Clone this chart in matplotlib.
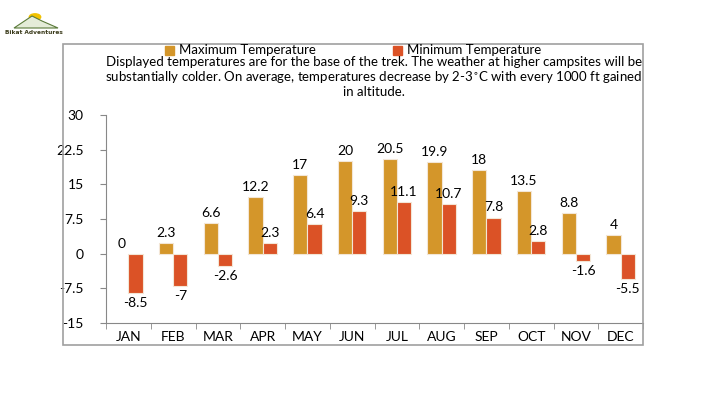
import matplotlib
matplotlib.use('Agg')
import matplotlib.pyplot as plt
import numpy as np
from matplotlib.patches import Rectangle, Polygon, Circle

# data
months = ['JAN', 'FEB', 'MAR', 'APR', 'MAY', 'JUN', 'JUL', 'AUG', 'SEP', 'OCT', 'NOV', 'DEC']
max_temp = [0, 2.3, 6.6, 12.2, 17, 20, 20.5, 19.9, 18, 13.5, 8.8, 4]
min_temp = [-8.5, -7, -2.6, 2.3, 6.4, 9.3, 11.1, 10.7, 7.8, 2.8, -1.6, -5.5]
yticks = [30, 22.5, 15, 7.5, 0, -7.5, -15]

max_color = '#D4962A'
min_color = '#DB5226'

plt.rcParams['font.family'] = ['Lato', 'DejaVu Sans']

W, H = 709, 399
fig = plt.figure(figsize=(W / 100, H / 100), dpi=100)
fig.patch.set_facecolor('white')

def fx(px): return px / W
def fy(py): return 1 - py / H

# outer box
fig.patches.append(Rectangle((fx(63), fy(345)), fx(643) - fx(63), fy(44) - fy(345),
                             transform=fig.transFigure, fill=False, edgecolor='#a0a0a0', lw=1.2))

# logo
fig.patches.append(Circle((fx(35), fy(17)), 0.008, transform=fig.transFigure, color='#f2c200', zorder=1))
fig.patches.append(Polygon([(fx(14), fy(28)), (fx(32), fy(16)), (fx(42), fy(21)), (fx(58), fy(28))],
                           closed=True, transform=fig.transFigure, facecolor='#e4ecd8', edgecolor='#5a7a3a', lw=0.8, zorder=2))
fig.text(fx(34), fy(32), 'Bikat Adventures', ha='center', va='center', fontsize=4.2,
         fontweight='bold', color='#3a3a1a', family='DejaVu Sans')

# legend
fig.patches.append(Rectangle((fx(165), fy(55)), fx(9), 9 / H, transform=fig.transFigure, color=max_color))
fig.text(fx(179), fy(50.5), 'Maximum Temperature', ha='left', va='center', fontsize=9.5)
fig.patches.append(Rectangle((fx(393), fy(55)), fx(9), 9 / H, transform=fig.transFigure, color=min_color))
fig.text(fx(407), fy(50.5), 'Minimum Temperature', ha='left', va='center', fontsize=9.5)

fig.text(fx(374), fy(56.5), 'Displayed temperatures are for the base of the trek. The weather at higher campsites will be\n'
         'substantially colder. On average, temperatures decrease by 2-3$^{\\circ}$C with every 1000 ft gained\n'
         'in altitude.', ha='center', va='top', fontsize=9.5, linespacing=1.08)

ax = fig.add_axes([fx(106), fy(323), fx(643) - fx(106), fy(115) - fy(323)])
x = np.arange(len(months))
bw = 0.32
b1 = ax.bar(x - bw / 2, max_temp, bw, color=max_color, edgecolor='#f3e6d6', lw=0.8)
b2 = ax.bar(x + bw / 2, min_temp, bw, color=min_color, edgecolor='#f3e6d6', lw=0.8)

for bars, vals in ((b1, max_temp), (b2, min_temp)):
    for b, v in zip(bars, vals):
        if v == 0:
            b.set_linewidth(0)
        cx = b.get_x() + b.get_width() / 2
        if v >= 0:
            ax.annotate(f'{v:g}', (cx, v), xytext=(0, 3), textcoords='offset points',
                        ha='center', va='bottom', fontsize=10)
        else:
            ax.annotate(f'{v:g}', (cx, v), xytext=(0, -3), textcoords='offset points',
                        ha='center', va='top', fontsize=10)

ax.set_xlim(-0.5, len(months) - 0.5)
ax.set_ylim(-15, 30)
ax.set_yticks(yticks)
ax.set_yticklabels([f'{t:g}' for t in yticks])
ax.set_xticks(x)
ax.set_xticklabels(months)
ax.set_xticks(np.arange(-0.5, len(months)), minor=True)
ax.tick_params(axis='x', which='major', length=0, pad=6, labelsize=10)
ax.tick_params(axis='x', which='minor', length=4, color='#888888')
ax.tick_params(axis='y', length=4, color='#888888', labelsize=10, pad=12)
for s in ('top', 'right'):
    ax.spines[s].set_visible(False)
for s in ('left', 'bottom'):
    ax.spines[s].set_color('#888888')
ax.set_facecolor('none')

fig.savefig('out.png', dpi=100)
